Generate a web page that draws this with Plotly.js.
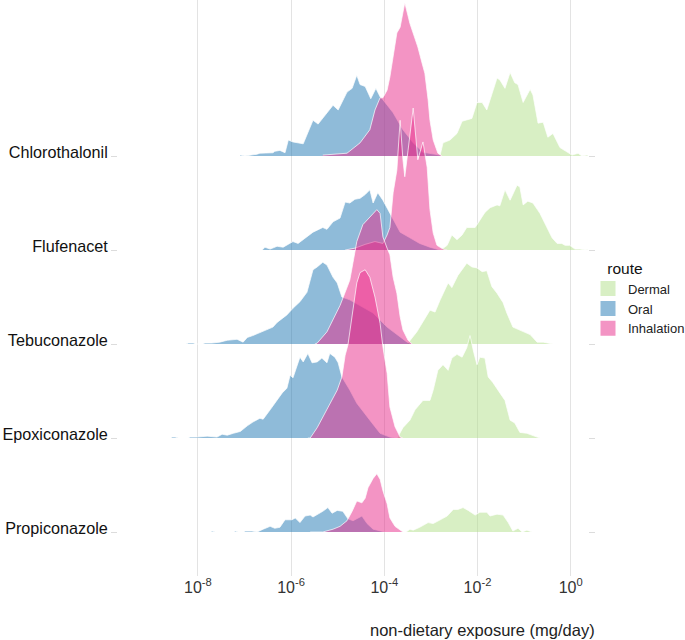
<!DOCTYPE html>
<html><head><meta charset="utf-8">
<script src="https://cdn.plot.ly/plotly-3.0.1.min.js"></script>
<style>html,body{margin:0;padding:0;background:#fff}</style>
</head><body><div id="chart" style="width:685px;height:640px"></div>
<script>
// ---- categories, routes, ticks ----
const chemicals = ['Chlorothalonil','Flufenacet','Tebuconazole','Epoxiconazole','Propiconazole'];
const routes = ['Dermal','Oral','Inhalation'];
const tickExponents = [-8,-6,-4,-2,0];
const xTitle = 'non-dietary exposure (mg/day)';
const legendTitle = 'route';

// ---- data: log10 exposure (mg/day) and ridge height (relative density) ----
const chl_dermal_x = [-2.80,-2.74,-2.59,-2.44,-2.33,-2.12,-2.01,-1.90,-1.80,-1.58,-1.52,-1.41,-1.30,-1.20,-1.13,-1.02,-0.87,-0.81,-0.70,-0.59,-0.49,-0.38,-0.23,-0.06,0.03,0.16,0.24,0.35,0.41];
const chl_dermal_h = [0.01,0.14,0.17,0.24,0.37,0.40,0.57,0.57,0.49,0.83,0.81,0.72,0.89,0.78,0.76,0.57,0.71,0.65,0.35,0.36,0.20,0.24,0.09,0.04,0.01,0.03,0,0.01,0];
const chl_oral_x = [-7.09,-6.99,-6.73,-6.67,-6.39,-6.35,-6.24,-6.13,-6.06,-5.96,-5.74,-5.53,-5.42,-5.10,-4.99,-4.80,-4.69,-4.59,-4.52,-4.41,-4.29,-4.18,-4.09,-4.03,-3.81,-3.60,-3.38,-3.17,-2.80];
const chl_oral_h = [0.01,0,0.02,0.03,0.035,0.05,0.06,0.035,0.17,0.15,0.13,0.38,0.34,0.54,0.49,0.68,0.72,0.86,0.76,0.74,0.61,0.72,0.63,0.60,0.46,0.28,0.14,0.04,0.01];
const chl_inhal_x = [-5.32,-5.06,-4.80,-4.52,-4.31,-4.20,-4.09,-4.03,-3.94,-3.88,-3.81,-3.73,-3.66,-3.56,-3.45,-3.38,-3.28,-3.19,-3.13,-3.06,-3.02,-2.95,-2.85,-2.76];
const chl_inhal_h = [0.01,0.02,0.03,0.14,0.28,0.49,0.62,0.62,0.70,0.84,1.05,1.31,1.37,1.63,1.41,1.31,1.16,0.99,0.88,0.60,0.38,0.17,0.03,0];

const flu_dermal_x = [-2.76,-2.65,-2.55,-2.44,-2.33,-2.23,-2.05,-1.99,-1.84,-1.73,-1.58,-1.52,-1.41,-1.30,-1.15,-1.09,-1.02,-0.92,-0.81,-0.66,-0.51,-0.40,-0.29,-0.19,-0.12,-0.02,0.09,0.20,0.31,0.41];
const flu_dermal_h = [0.01,0.05,0.16,0.11,0.16,0.24,0.24,0.29,0.40,0.45,0.48,0.47,0.64,0.53,0.69,0.67,0.48,0.52,0.50,0.39,0.24,0.13,0.07,0.07,0.05,0.05,0.01,0.01,0,0.01];
const flu_oral_x = [-6.62,-6.56,-6.45,-6.30,-6.17,-5.96,-5.85,-5.66,-5.53,-5.32,-5.23,-5.10,-4.95,-4.84,-4.74,-4.63,-4.52,-4.41,-4.31,-4.24,-4.14,-4.03,-3.88,-3.77,-3.66,-3.45,-3.24,-3.02,-2.80];
const flu_oral_h = [0,0.03,0.01,0.04,0.03,0.09,0.07,0.14,0.19,0.24,0.22,0.30,0.34,0.51,0.50,0.54,0.55,0.59,0.64,0.50,0.61,0.53,0.39,0.29,0.19,0.13,0.07,0.03,0];
const flu_inhal_x = [-4.84,-4.63,-4.41,-4.20,-4.03,-3.94,-3.88,-3.81,-3.73,-3.66,-3.60,-3.56,-3.49,-3.38,-3.28,-3.17,-3.08,-3.02,-2.95,-2.87,-2.74,-2.65];
const flu_inhal_h = [0,0.02,0.06,0.09,0.07,0.16,0.24,0.61,0.85,1.38,0.96,0.78,1.06,1.51,0.96,1.15,0.88,0.43,0.18,0.05,0.01,0];

const teb_dermal_x = [-3.53,-3.49,-3.30,-3.17,-3.02,-2.91,-2.80,-2.63,-2.55,-2.42,-2.23,-2.12,-2.01,-1.90,-1.80,-1.69,-1.58,-1.45,-1.37,-1.24,-1.09,-0.87,-0.72,-0.59,-0.38];
const teb_dermal_h = [0,0.01,0.13,0.23,0.36,0.34,0.47,0.65,0.60,0.73,0.86,0.82,0.81,0.77,0.78,0.61,0.54,0.44,0.33,0.18,0.15,0.10,0.02,0.02,0];
const teb_oral_x = [-8.25,-8.20,-8.10,-8.06,-7.89,-7.85,-7.70,-7.53,-7.37,-7.16,-7.03,-6.94,-6.82,-6.67,-6.52,-6.39,-6.30,-6.09,-5.96,-5.81,-5.66,-5.53,-5.44,-5.32,-5.23,-5.10,-5.01,-4.95,-4.91,-4.74,-4.52,-4.24,-3.94,-3.66,-3.51,-3.40];
const teb_oral_h = [0,0.01,0.01,0,0,0.01,0.01,0.02,0.04,0.05,0.02,0.07,0.09,0.12,0.15,0.18,0.23,0.31,0.38,0.45,0.55,0.79,0.82,0.87,0.84,0.71,0.65,0.57,0.50,0.47,0.41,0.33,0.18,0.07,0.02,0];
const teb_inhal_x = [-5.49,-5.44,-5.23,-5.10,-4.95,-4.84,-4.74,-4.67,-4.59,-4.46,-4.37,-4.24,-4.16,-4.09,-4.03,-3.94,-3.88,-3.81,-3.73,-3.66,-3.60,-3.49,-3.40];
const teb_inhal_h = [0,0.01,0.13,0.26,0.41,0.55,0.68,0.87,1.09,1.27,1.32,1.39,1.43,1.39,1.14,1.02,0.95,0.71,0.54,0.29,0.15,0.04,0];

const epo_dermal_x = [-3.73,-3.71,-3.60,-3.45,-3.34,-3.17,-3.02,-2.95,-2.85,-2.74,-2.63,-2.55,-2.44,-2.33,-2.23,-2.16,-2.08,-2.01,-1.95,-1.84,-1.77,-1.67,-1.52,-1.41,-1.30,-1.20,-1.09,-0.94,-0.72,-0.66];
const epo_dermal_h = [0,0.01,0.11,0.19,0.30,0.40,0.40,0.51,0.72,0.78,0.72,0.85,0.89,0.86,0.96,1.09,0.91,0.78,0.86,0.85,0.65,0.59,0.48,0.40,0.19,0.16,0.06,0.05,0.01,0];
const epo_oral_x = [-8.56,-8.49,-8.42,-8.20,-8.17,-8.02,-7.80,-7.59,-7.48,-7.37,-7.24,-7.09,-6.94,-6.82,-6.67,-6.60,-6.45,-6.35,-6.19,-6.09,-6.02,-5.96,-5.87,-5.81,-5.74,-5.64,-5.55,-5.44,-5.34,-5.23,-5.17,-5.06,-4.99,-4.91,-4.74,-4.59,-4.31,-4.09,-3.88,-3.77];
const epo_oral_h = [0.01,0.01,0,0,0.01,0.01,0.02,0.01,0.04,0.03,0.05,0.07,0.13,0.17,0.21,0.20,0.30,0.37,0.48,0.53,0.67,0.64,0.76,0.86,0.81,0.90,0.80,0.81,0.85,0.80,0.90,0.86,0.80,0.65,0.51,0.37,0.19,0.05,0.01,0];
const epo_inhal_x = [-5.64,-5.59,-5.44,-5.32,-5.17,-5.01,-4.91,-4.84,-4.78,-4.69,-4.59,-4.52,-4.41,-4.31,-4.20,-4.09,-4.03,-3.94,-3.88,-3.77,-3.66,-3.60];
const epo_inhal_h = [0,0,0.11,0.22,0.37,0.51,0.65,0.88,0.99,1.29,1.65,1.76,1.79,1.71,1.50,1.22,0.97,0.69,0.33,0.12,0.01,0];

const pro_dermal_x = [-3.53,-3.45,-3.38,-3.24,-3.06,-2.95,-2.76,-2.65,-2.52,-2.42,-2.31,-2.20,-2.05,-1.95,-1.80,-1.73,-1.58,-1.45,-1.34,-1.24,-1.13,-1.04,-0.94,-0.83];
const pro_dermal_h = [0,0.03,0.02,0.05,0.10,0.09,0.14,0.17,0.24,0.24,0.26,0.23,0.18,0.21,0.21,0.17,0.19,0.18,0.10,0.01,0.04,0,0.02,0];
const pro_oral_x = [-7.72,-7.70,-7.63,-7.22,-7.20,-7.14,-7.01,-6.99,-6.84,-6.73,-6.60,-6.45,-6.35,-6.24,-6.13,-5.98,-5.91,-5.81,-5.70,-5.59,-5.53,-5.42,-5.32,-5.21,-5.12,-5.01,-4.89,-4.78,-4.67,-4.48,-4.37,-4.24,-4.09,-3.98];
const pro_oral_h = [0,0.01,0,0,0.01,0,0,0.01,0.01,0,0.03,0.06,0.04,0.05,0.13,0.13,0.15,0.10,0.17,0.18,0.16,0.19,0.22,0.26,0.20,0.23,0.22,0.14,0.12,0.17,0.09,0.03,0.01,0];
const pro_inhal_x = [-5.59,-5.32,-5.10,-4.95,-4.80,-4.69,-4.59,-4.48,-4.41,-4.35,-4.24,-4.16,-4.09,-4.03,-3.94,-3.88,-3.77,-3.66,-3.60];
const pro_inhal_h = [0,0,0.03,0.06,0.12,0.22,0.33,0.31,0.36,0.47,0.57,0.62,0.56,0.44,0.30,0.15,0.06,0.02,0];

const series = {
  Chlorothalonil: {Dermal:[chl_dermal_x,chl_dermal_h], Oral:[chl_oral_x,chl_oral_h], Inhalation:[chl_inhal_x,chl_inhal_h]},
  Flufenacet:     {Dermal:[flu_dermal_x,flu_dermal_h], Oral:[flu_oral_x,flu_oral_h], Inhalation:[flu_inhal_x,flu_inhal_h]},
  Tebuconazole:   {Dermal:[teb_dermal_x,teb_dermal_h], Oral:[teb_oral_x,teb_oral_h], Inhalation:[teb_inhal_x,teb_inhal_h]},
  Epoxiconazole:  {Dermal:[epo_dermal_x,epo_dermal_h], Oral:[epo_oral_x,epo_oral_h], Inhalation:[epo_inhal_x,epo_inhal_h]},
  Propiconazole:  {Dermal:[pro_dermal_x,pro_dermal_h], Oral:[pro_oral_x,pro_oral_h], Inhalation:[pro_inhal_x,pro_inhal_h]}
};

// ---- styles ----
const routeColor = {Dermal:'rgba(178,223,138,0.5)', Oral:'rgba(31,120,180,0.5)', Inhalation:'rgba(231,41,138,0.5)'};
const FONT = 'Liberation Sans, Arial, Helvetica, sans-serif';

const traces = [];
chemicals.forEach((chem, i) => {
  const base = chemicals.length - i;
  routes.forEach(route => {
    const [lx, hs] = series[chem][route];
    const xs = lx.map(v => Math.pow(10, v));
    const ys = hs.map(h => base + h);
    traces.push({
      type:'scatter', mode:'lines', x: xs.concat([xs[xs.length-1], xs[0]]), y: ys.concat([base, base]),
      fill:'toself', fillcolor: routeColor[route], line:{width:0, color:'rgba(0,0,0,0)'},
      hoverinfo:'skip', showlegend:false
    });
    traces.push({
      type:'scatter', mode:'lines', x: xs, y: ys,
      line:{width:0.7, color:'#ffffff'}, hoverinfo:'skip', showlegend:false
    });
  });
});
routes.forEach(route => {
  traces.push({type:'scatter', mode:'markers', x:[null], y:[null], name: route,
    marker:{symbol:'square', size:15, color: routeColor[route]}, showlegend:true});
});

const layout = {
  width:685, height:640,
  margin:{l:118, r:97, t:0, b:64, autoexpand:false},
  paper_bgcolor:'#fff', plot_bgcolor:'#fff',
  font:{family:FONT, color:'#222'},
  xaxis:{type:'log', range:[-9.715, 0.372], automargin:false,
    tickvals: tickExponents.map(e => Math.pow(10, e)),
    ticktext: tickExponents.map(e => '10<sup>' + e + '</sup>'),
    showgrid:true, gridcolor:'#e3e3e3', gridwidth:1, zeroline:false, showline:false, ticks:'',
    tickfont:{size:16, color:'#333', family:FONT}},
  yaxis:{range:[0.532, 6.66], automargin:false, tickvals: chemicals.map((c,i) => chemicals.length - i), ticktext: chemicals,
    showgrid:false, zeroline:false, showline:false, ticks:'outside', ticklen:6, tickcolor:'#dcdcdc', tickwidth:1,
    mirror:'ticks', ticklabelshift:-4,
    tickfont:{size:16.2, color:'#111', family:FONT}},
  legend:{x:1.0, y:0.56, xanchor:'left', yanchor:'top', bgcolor:'rgba(0,0,0,0)',
    title:{text:'\u00a0\u00a0\u00a0\u00a0' + legendTitle, font:{size:15.5, color:'#111', family:FONT}},
    font:{size:13, color:'#222', family:FONT}, itemwidth:30, traceorder:'normal'},
  annotations:[{text:xTitle, xref:'paper', yref:'paper', x:1.019, y:-0.094, xanchor:'right', yanchor:'middle',
    showarrow:false, font:{size:16.5, color:'#222', family:FONT}}]
};

Plotly.newPlot('chart', traces, layout, {displayModeBar:false, staticPlot:true});
</script></body></html>
